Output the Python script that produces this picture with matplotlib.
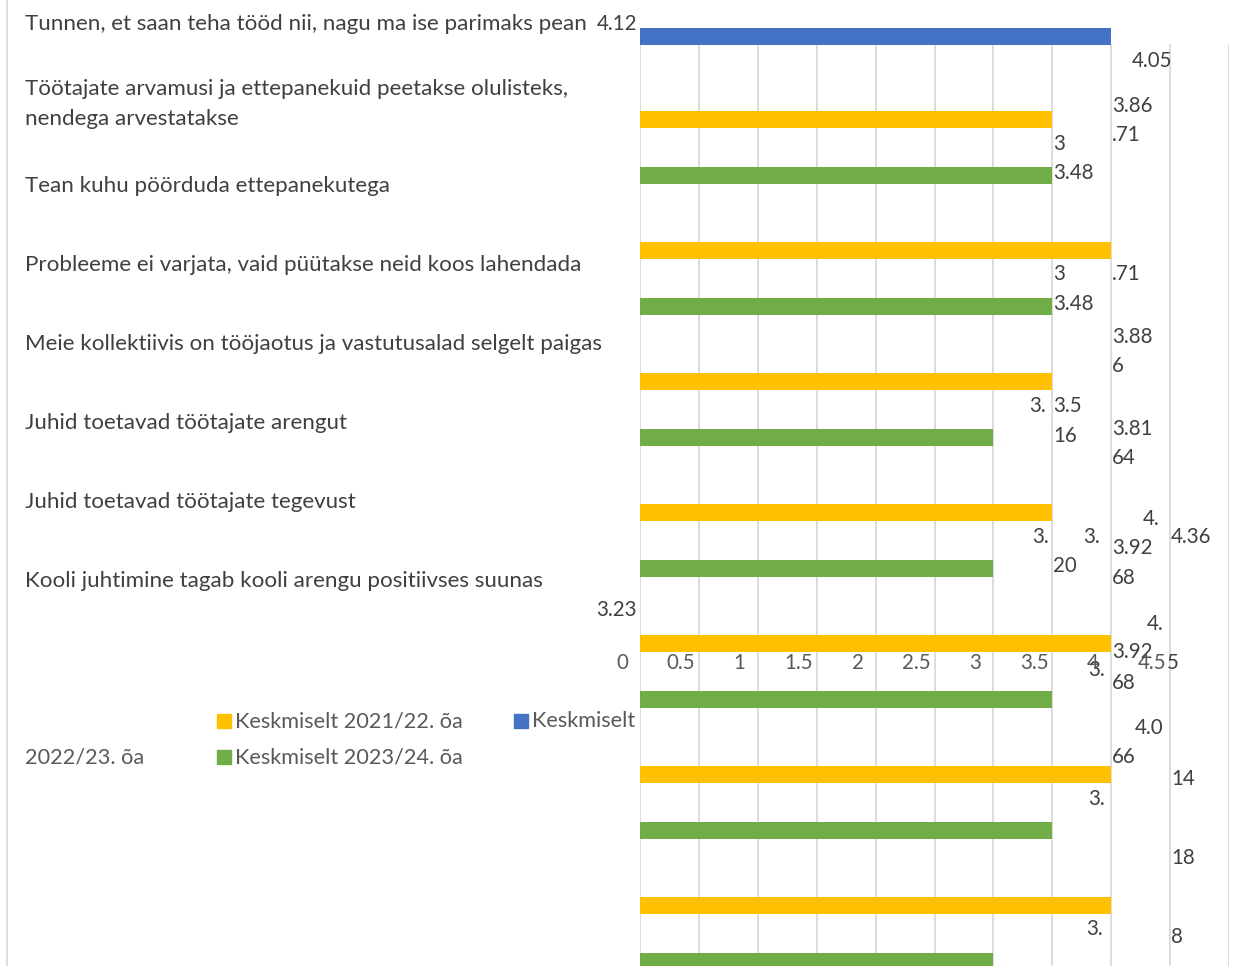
import matplotlib
matplotlib.use('Agg')
import matplotlib.pyplot as plt

plt.rcParams['font.family'] = ['Lato', 'DejaVu Sans']

# Survey statements (left column)
statements = [
    'Tunnen, et saan teha tööd nii, nagu ma ise parimaks pean',
    'Töötajate arvamusi ja ettepanekuid peetakse olulisteks,\nnendega arvestatakse',
    'Tean kuhu pöörduda ettepanekutega',
    'Probleeme ei varjata, vaid püütakse neid koos lahendada',
    'Meie kollektiivis on tööjaotus ja vastutusalad selgelt paigas',
    'Juhid toetavad töötajate arengut',
    'Juhid toetavad töötajate tegevust',
    'Kooli juhtimine tagab kooli arengu positiivses suunas',
]

# Bar lengths as they came out in the (broken) rendering
blue_vals = [4.0]
yellow_vals = [3.5, 4.0, 3.5, 3.5, 4.0, 4.0, 4.0]
green_vals = [3.5, 3.5, 3.0, 3.0, 3.5, 3.5, 3.0]

x_ticks = [0, 0.5, 1, 1.5, 2, 2.5, 3, 3.5, 4, 4.5]

legend_names = ['Keskmiselt 2021/22. õa', 'Keskmiselt', 'Keskmiselt 2023/24. õa']

# stray data labels, (text, x px, y px, ha)
data_labels = [
    ('4.12', 637, 24, 'right'), ('4.05', 1132, 61, 'left'),
    ('3.86', 1112, 106, 'left'), ('.71', 1112, 135, 'left'),
    ('3', 1053, 144, 'left'), ('3.48', 1053, 173, 'left'),
    ('3', 1053, 274, 'left'), ('.71', 1112, 274, 'left'),
    ('3.48', 1053, 304, 'left'), ('3.88', 1112, 337, 'left'),
    ('6', 1112, 366, 'left'), ('3.', 1046, 406, 'right'),
    ('3.5', 1053, 406, 'left'), ('16', 1053, 436, 'left'),
    ('3.81', 1112, 429, 'left'), ('64', 1112, 458, 'left'),
    ('4.', 1143, 519, 'left'), ('4.36', 1171, 537, 'left'),
    ('3.', 1032, 537, 'left'), ('3.', 1083, 537, 'left'),
    ('3.92', 1112, 548, 'left'), ('20', 1053, 566, 'left'),
    ('68', 1112, 578, 'left'), ('3.23', 637, 610, 'right'),
    ('4.', 1147, 624, 'left'), ('3.92', 1112, 652, 'left'),
    ('3.', 1088, 670, 'left'), ('68', 1112, 683, 'left'),
    ('5', 1167, 663, 'left'), ('4.0', 1135, 728, 'left'),
    ('66', 1112, 757, 'left'), ('14', 1171, 779, 'left'),
    ('3.', 1088, 799, 'left'), ('18', 1171, 858, 'left'),
    ('3.', 1086, 929, 'left'), ('8', 1171, 937, 'left'),
]

W, H = 1239, 966
fig = plt.figure(figsize=(W / 100, H / 100), dpi=100)
fig.patch.set_facecolor('white')

# bar area: x 640..1229 px <-> 0..5
ax = fig.add_axes([640 / W, 0, 589 / W, 1])
ax.set_xlim(0, 5)
ax.set_ylim(H, 0)
ax.axis('off')

grid_c = '#d9d9d9'
for g in [i * 0.5 for i in range(11)]:
    ax.plot([g, g], [45, H], color=grid_c, lw=1.3, zorder=1)

bar_h = 17
yellow_y = [119.5 + 131 * i for i in range(len(yellow_vals))]
green_y = [175.5 + 131 * i for i in range(len(green_vals))]
ax.barh([36.5], blue_vals, height=bar_h, color='#4472c4', zorder=2)
ax.barh(yellow_y, yellow_vals, height=bar_h, color='#ffc000', zorder=2)
ax.barh(green_y, green_vals, height=bar_h, color='#70ad47', zorder=2)

# overlay in pixel coordinates for all text
ov = fig.add_axes([0, 0, 1, 1], facecolor='none')
ov.set_xlim(0, W)
ov.set_ylim(H, 0)
ov.axis('off')
ov.plot([7, 7], [0, H], color=grid_c, lw=1.3)

txt_c = '#404040'
fs_lab = 16.1
fs_num = 14.8
fs_leg = 15.6
label_y = [24, 89, 186, 265, 344, 423, 502, 581]
for s, y in zip(statements, label_y):
    for k, line in enumerate(s.split('\n')):
        ov.text(25, y + 30 * k, line, fontsize=fs_lab, color=txt_c,
                ha='left', va='center')

for t, x, y, ha in data_labels:
    ov.text(x, y, t, fontsize=fs_num, color=txt_c, ha=ha, va='center')

for v in x_ticks:
    px = 640 + v * 589 / 5 - 18
    ov.text(px, 663, f'{v:g}', fontsize=fs_num, color='#595959',
            ha='center', va='center')

# legend (wrapped as in the source)
leg_colors = ['#ffc000', '#4472c4', '#70ad47']
leg_pos = [(217, 721), (514, 721), (217, 757)]
for name, c, (x, y) in zip(legend_names, leg_colors, leg_pos):
    ov.add_patch(plt.Rectangle((x, y - 7), 14, 14, color=c))
    ov.text(x + 18, y, name, fontsize=fs_leg, color='#595959',
            ha='left', va='center')
ov.text(25, 757, '2022/23. õa', fontsize=fs_leg, color='#595959',
        ha='left', va='center')

fig.savefig('out.png', dpi=100)
